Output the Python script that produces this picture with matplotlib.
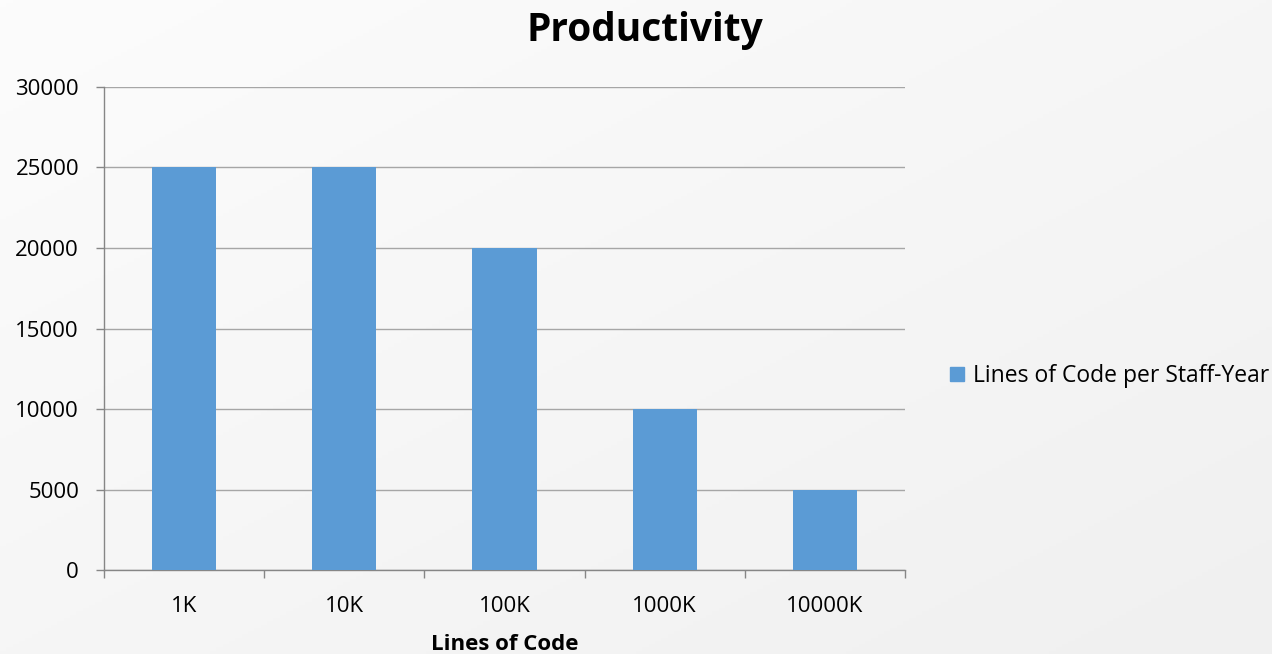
import numpy as np
import matplotlib
matplotlib.use("Agg")
import matplotlib.pyplot as plt
from matplotlib.patches import Patch

# data
categories = ["1K", "10K", "100K", "1000K", "10000K"]
loc_per_staff_year = [25000, 25000, 20000, 10000, 5000]
series_name = "Lines of Code per Staff-Year"

plt.rcParams['font.family'] = ['Open Sans', 'DejaVu Sans']

fig = plt.figure(figsize=(12.72, 6.54), dpi=100)

# light gradient background like the office chart
bg = fig.add_axes([0, 0, 1, 1], zorder=-10)
gx, gy = np.meshgrid(np.linspace(0, 1, 200), np.linspace(0, 1, 200))
grad = 0.5 * gx + 0.5 * gy
bg.imshow(grad, cmap=matplotlib.colors.LinearSegmentedColormap.from_list("g", ["#fcfcfc", "#f0f0f0"]),
          aspect="auto", extent=[0, 1, 0, 1], origin="upper")
bg.axis("off")

ax = fig.add_axes([0.0818, 0.1284, 0.6297, 0.7386])
ax.patch.set_alpha(0)

x = np.arange(len(categories))
ax.bar(x, loc_per_staff_year, width=0.4, color="#5b9bd5", zorder=3)

ax.set_xlim(-0.5, len(categories) - 0.5)
ax.set_ylim(0, 30000)
ax.set_yticks(range(0, 30001, 5000))
ax.yaxis.grid(True, color="#a6a6a6", linewidth=1)
ax.set_axisbelow(True)

ax.set_xticks(x)
ax.set_xticklabels(categories)
ax.set_xticks(np.arange(-0.5, len(categories)), minor=True)
ax.tick_params(axis="x", which="major", length=0, pad=19, labelsize=16)
ax.tick_params(axis="x", which="minor", length=6, color="#868686", width=1)
ax.tick_params(axis="y", length=6, color="#868686", width=1, labelsize=16, pad=12)

for s in ["top", "right"]:
    ax.spines[s].set_visible(False)
for s in ["left", "bottom"]:
    ax.spines[s].set_color("#868686")
    ax.spines[s].set_linewidth(1)

ax.set_xlabel("Lines of Code", fontsize=16, fontweight="bold", labelpad=12)
fig.text(0.507, 0.953, "Productivity", ha="center", va="center", fontsize=28, fontweight="bold")

fig.legend(handles=[Patch(color="#5b9bd5", label=series_name)], loc="center left",
           bbox_to_anchor=(0.731, 0.425), frameon=False, fontsize=16.5,
           handlelength=0.6, handleheight=0.6, handletextpad=0.4)

fig.savefig("out.png", dpi=100)
